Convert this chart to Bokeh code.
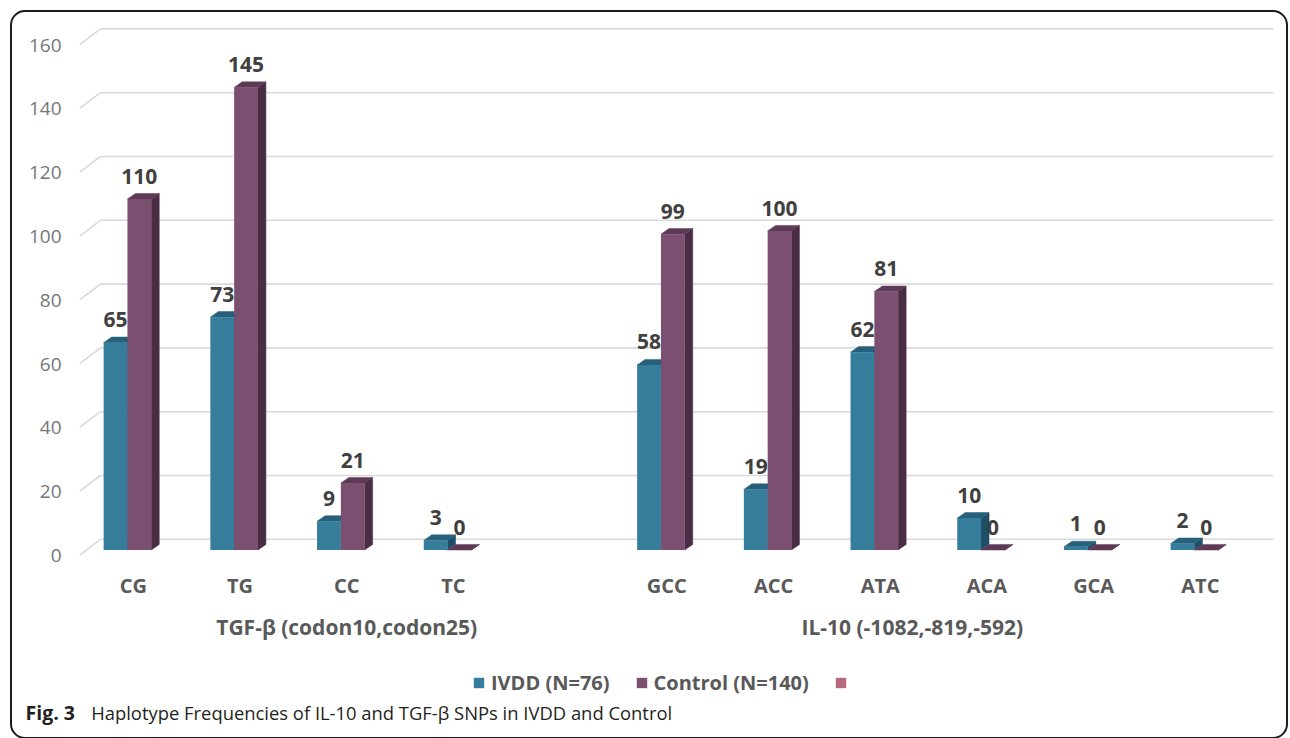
from bokeh.plotting import figure
from bokeh.layouts import column
from bokeh.models import (Range1d, LinearAxis, FixedTicker, Legend, LegendItem, Label,
                          InlineStyleSheet)
from bokeh.core.properties import value
from bokeh.embed import file_html
from bokeh.resources import INLINE

# ---------------- data ----------------
groups = ["TGF-β (codon10,codon25)", "IL-10 (-1082,-819,-592)"]
tgf_haplotypes = ["CG", "TG", "CC", "TC"]
il10_haplotypes = ["GCC", "ACC", "ATA", "ACA", "GCA", "ATC"]
tgf_ivdd = [65, 73, 9, 3]
tgf_control = [110, 145, 21, 0]
il10_ivdd = [58, 19, 62, 10, 1, 2]
il10_control = [99, 100, 81, 0, 0, 0]
series_names = ["IVDD (N=76)", "Control (N=140)"]
y_ticks = [0, 20, 40, 60, 80, 100, 120, 140, 160]
caption_bold = "Fig. 3"
caption_text = "Haplotype Frequencies of IL-10 and TGF-β SNPs in IVDD and Control"

# ---------------- layout / style constants ----------------
FONT = "Open Sans"
C_IVDD = ("#367C9B", "#26607A", "#1F4F66")     # front, top, side
C_CTRL = ("#7B4F70", "#5E3A56", "#4A2D45")
C_THIRD = "#B56A7E"
W, H = 1290, 738
H1 = 660                                      # main chart height, rest is legend/caption strip
FL, FR, FT, FB = 75, 1274, 18, 562            # frame edges (px)
PX_X = 106.7          # px per category slot
PX_Y = 3.19           # px per unit
X0 = 79.5             # px of slot 0 left edge
BASE = 549.5          # px of value 0 (bar plane)
BAR_W = 23.8 / PX_X
IVDD_OFF = -29.7 / PX_X
DX = 8.0 / PX_X
DY = 5.6 / PX_Y
BACK_DY = 3.35
FRONT_DY = -1.5
BACK_X0 = 20.5 / PX_X
BACK_X1 = 1193.5 / PX_X
CAP_BASELINE = 711.5

cats = tgf_haplotypes + il10_haplotypes
ivdd = tgf_ivdd + il10_ivdd
ctrl = tgf_control + il10_control
n1 = len(tgf_haplotypes)
centers = [i + 0.5 for i in range(n1)] + [n1 + 1 + j + 0.5 for j in range(len(il10_haplotypes))]
group_centers = [(n1 + 1) / 2.0, 7.8]

p = figure(width=W, height=H1, output_backend="svg", toolbar_location=None,
           x_range=Range1d((FL - X0) / PX_X, (FR - X0) / PX_X),
           y_range=Range1d((BASE - FB) / PX_Y, (BASE - FT) / PX_Y),
           x_axis_location=None, y_axis_location=None,
           min_border_left=FL, min_border_right=W - FR,
           min_border_top=FT, min_border_bottom=H1 - FB)
p.frame_align = False
p.outline_line_color = None
p.background_fill_color = "white"
p.border_fill_color = "white"
p.xgrid.visible = False
p.ygrid.visible = False

shift = (555 - BASE) / PX_Y
p.extra_y_ranges = {"lbl": Range1d(p.y_range.start + shift, p.y_range.end + shift)}

# y axis (labels only)
yax = LinearAxis(y_range_name="lbl", ticker=FixedTicker(ticks=y_ticks))
yax.axis_line_color = None
yax.major_tick_line_color = None
yax.minor_tick_line_color = None
yax.major_tick_out = 0
yax.major_tick_in = 0
yax.major_label_standoff = 14
yax.major_label_text_font = FONT
yax.major_label_text_font_size = "19px"
yax.major_label_text_color = "#767676"
p.add_layout(yax, "left")

# category axis + group axis
xax = LinearAxis(ticker=FixedTicker(ticks=centers),
                 major_label_overrides={c: t for c, t in zip(centers, cats)})
gax = LinearAxis(ticker=FixedTicker(ticks=group_centers),
                 major_label_overrides={c: t for c, t in zip(group_centers, groups)})
for ax, so, fs in ((xax, 9, "20px"), (gax, 11, "21px")):
    ax.axis_line_color = None
    ax.major_tick_line_color = None
    ax.minor_tick_line_color = None
    ax.major_tick_out = 0
    ax.major_tick_in = 0
    ax.major_label_standoff = so
    ax.major_label_text_font = FONT
    ax.major_label_text_font_size = fs
    ax.major_label_text_font_style = "bold"
    ax.major_label_text_color = "#595959"
    p.add_layout(ax, "below")

# back wall gridlines + depth diagonals
p.segment(x0=[BACK_X0] * len(y_ticks), y0=[t + BACK_DY for t in y_ticks],
          x1=[BACK_X1] * len(y_ticks), y1=[t + BACK_DY for t in y_ticks],
          line_color="#D9D9D9", line_width=1.6)
p.segment(x0=[0.0] * len(y_ticks), y0=[t + FRONT_DY for t in y_ticks],
          x1=[BACK_X0] * len(y_ticks), y1=[t + BACK_DY for t in y_ticks],
          line_color="#D9D9D9", line_width=1.6)

def bar3d(lefts, vals, cols):
    rights = [l + BAR_W for l in lefts]
    side_xs = [[r, r + DX, r + DX, r] for r in rights]
    side_ys = [[0, DY, v + DY, v] for v in vals]
    top_xs = [[l, r, r + DX, l + DX] for l, r in zip(lefts, rights)]
    top_ys = [[v, v, v + DY, v + DY] for v in vals]
    p.patches(side_xs, side_ys, fill_color=cols[2], line_color=cols[2], line_width=0.5)
    p.patches(top_xs, top_ys, fill_color=cols[1], line_color=cols[1], line_width=0.5)
    return p.quad(left=lefts, right=rights, bottom=[0] * len(vals), top=vals,
                  fill_color=cols[0], line_color=None)

l_ivdd = [c + IVDD_OFF for c in centers]
l_ctrl = [c + IVDD_OFF + BAR_W for c in centers]
bar3d(l_ivdd, ivdd, C_IVDD)
bar3d(l_ctrl, ctrl, C_CTRL)

# data labels
for lefts, vals in ((l_ivdd, ivdd), (l_ctrl, ctrl)):
    p.text(x=[l + BAR_W / 2 for l in lefts], y=vals, text=[str(v) for v in vals],
           text_align="center", text_baseline="middle", y_offset=-23,
           text_font=value(FONT), text_font_style="bold", text_font_size="21px",
           text_color="#404040")

# ---------------- legend + caption strip ----------------
H2 = H - H1
q = figure(width=W, height=H2, output_backend="svg", toolbar_location=None,
           x_range=Range1d(0, W), y_range=Range1d(0, H2),
           x_axis_location=None, y_axis_location=None,
           min_border_left=0, min_border_right=0, min_border_top=0, min_border_bottom=0)
q.frame_align = False
q.outline_line_color = None
q.background_fill_color = "white"
q.border_fill_color = "white"
q.xgrid.visible = False
q.ygrid.visible = False

# zero-size swatch renderers that only carry the legend colours
sw = [q.quad(left=[0], right=[0], bottom=[0], top=[0], fill_color=c, line_color=None)
      for c in (C_IVDD[0], C_CTRL[0], C_THIRD)]
legend = Legend(items=[LegendItem(label=series_names[0], renderers=[sw[0]]),
                       LegendItem(label=series_names[1], renderers=[sw[1]]),
                       LegendItem(label=" ", renderers=[sw[2]])],
                orientation="horizontal", location=(472, 42))
legend.padding = 0
legend.margin = 0
legend.border_line_color = None
legend.background_fill_alpha = 0
legend.glyph_width = 13
legend.glyph_height = 13
legend.label_height = 13
legend.label_standoff = 6
legend.spacing = 25
legend.label_text_font = FONT
legend.label_text_font_size = "20px"
legend.label_text_font_style = "bold"
legend.label_text_color = "#595959"
q.add_layout(legend, "center")

q.add_layout(Label(x=25, y=H - CAP_BASELINE, x_units="screen", y_units="screen",
                   text=caption_bold, text_font=FONT, text_font_style="bold",
                   text_font_size="19.5px", text_color="#231F20",
                   text_baseline="alphabetic"))
q.add_layout(Label(x=90.7, y=H - CAP_BASELINE, x_units="screen", y_units="screen",
                   text=caption_text, text_font=FONT, text_font_size="18.4px",
                   text_color="#231F20", text_baseline="alphabetic"))

layout = column(p, q, spacing=0)
# rounded outer border of the figure panel
layout.stylesheets = [InlineStyleSheet(css=(
    ":host { position: relative; } "
    ":host::after { content: ''; position: absolute; left: 10px; top: 10px; "
    "width: 1278px; height: 729px; box-sizing: border-box; border: 2px solid #1c1c1c; "
    "border-radius: 15px; pointer-events: none; }"))]

open("out.html", "w").write(file_html(layout, INLINE))
